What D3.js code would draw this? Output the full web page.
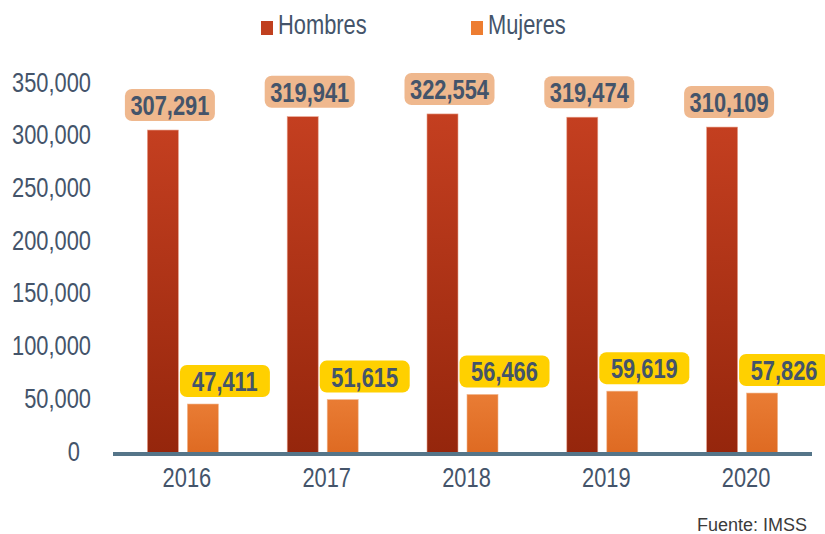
<!DOCTYPE html>
<html>
<head>
<meta charset="utf-8">
<script src="https://cdn.jsdelivr.net/npm/d3@7"></script>
<style>
  html, body { margin: 0; padding: 0; background: #ffffff; }
  svg { display: block; }
</style>
</head>
<body>
<svg id="chart" width="825" height="534"></svg>
<script>
const years = ["2016", "2017", "2018", "2019", "2020"];
const seriesNames = ["Hombres", "Mujeres"];
const hombres = [307291, 319941, 322554, 319474, 310109];
const mujeres = [47411, 51615, 56466, 59619, 57826];
const yTicks = [0, 50000, 100000, 150000, 200000, 250000, 300000, 350000];
const source = "Fuente: IMSS";

const W = 825, H = 534;
const font = "'Liberation Sans', Arial, sans-serif";
const FS = 27;
const SX = 0.81; // horizontal condensing to mimic a narrow face
const textColor = "#44546a";
const svg = d3.select("#chart");

const defs = svg.append("defs");
const gH = defs.append("linearGradient").attr("id", "gradH").attr("x1", 0).attr("x2", 0).attr("y1", 0).attr("y2", 1);
gH.append("stop").attr("offset", "0%").attr("stop-color", "#c43f20");
gH.append("stop").attr("offset", "100%").attr("stop-color", "#95260c");
const gM = defs.append("linearGradient").attr("id", "gradM").attr("x1", 0).attr("x2", 0).attr("y1", 0).attr("y2", 1);
gM.append("stop").attr("offset", "0%").attr("stop-color", "#e97c34");
gM.append("stop").attr("offset", "100%").attr("stop-color", "#de6a22");

const x0 = d3.scaleBand().domain(years).range([113, 812]).paddingInner(0);
const x1 = d3.scaleBand().domain(seriesNames).range([0, 71]).paddingInner(0.225);
const y = d3.scaleLinear().domain([0, 350000]).range([454, 85]);

// Y axis labels
const yAxis = d3.axisLeft(y).tickValues(yTicks).tickFormat(d3.format(",")).tickSize(0).tickPadding(0);
const yg = svg.append("g").attr("transform", "translate(91,0)").call(yAxis);
yg.select(".domain").remove();
yg.selectAll("text")
  .attr("font-family", font).attr("font-size", FS).attr("fill", textColor)
  .attr("dy", null)
  .attr("y", 6)
  .attr("x", d => d === 0 ? -11 / SX : 0)
  .attr("transform", `scale(${SX},1)`);

const data = years.map((yr, i) => ({ year: yr, values: [
  { key: "Hombres", value: hombres[i] },
  { key: "Mujeres", value: mujeres[i] }
]}));

const groups = svg.append("g").selectAll("g").data(data).join("g")
  .attr("transform", d => `translate(${x0(d.year) + x0.bandwidth() / 2 - 35.5},0)`);

groups.selectAll("rect.bar").data(d => d.values).join("rect")
  .attr("class", "bar")
  .attr("x", d => x1(d.key))
  .attr("width", x1.bandwidth())
  .attr("y", d => y(d.value))
  .attr("height", d => y(0) - y(d.value))
  .attr("fill", d => d.key === "Hombres" ? "url(#gradH)" : "url(#gradM)")
  .attr("stroke", d => d.key === "Hombres" ? "#e8a08a" : "#f2b68c")
  .attr("stroke-width", 0.6);

// Data labels
const lbl = groups.selectAll("g.lbl").data(d => d.values).join("g")
  .attr("class", "lbl")
  .attr("transform", d => {
    const cx = x1(d.key) + x1.bandwidth() / 2 + (d.key === "Hombres" ? 7 : 22);
    const bottom = y(d.value) - (d.key === "Hombres" ? 9 : 7);
    return `translate(${cx},${bottom})`;
  });
lbl.append("rect")
  .attr("x", -45).attr("y", -32).attr("width", 90).attr("height", 32)
  .attr("rx", 7).attr("ry", 7)
  .attr("fill", d => d.key === "Hombres" ? "#efb88e" : "#ffd000");
lbl.append("text")
  .attr("x", 0).attr("y", -6)
  .attr("text-anchor", "middle")
  .attr("font-family", font).attr("font-weight", "bold").attr("font-size", FS)
  .attr("fill", textColor)
  .attr("transform", `scale(${SX},1)`)
  .text(d => d3.format(",")(d.value));

// X axis line
svg.append("line")
  .attr("x1", x0.range()[0]).attr("x2", x0.range()[1])
  .attr("y1", y(0)).attr("y2", y(0))
  .attr("stroke", "#557589").attr("stroke-width", 4);

// X labels
const xAxis = d3.axisBottom(x0).tickSize(0).tickPadding(0);
const xg = svg.append("g").attr("transform", "translate(4,0)").call(xAxis);
xg.select(".domain").remove();
xg.selectAll("text")
  .attr("font-family", font).attr("font-size", FS).attr("fill", textColor)
  .attr("dy", null).attr("y", 487)
  .attr("transform", `scale(${SX},1)`);

// Legend
const legendX = [261, 471];
const leg = svg.append("g").selectAll("g").data(seriesNames).join("g")
  .attr("transform", (d, i) => `translate(${legendX[i]},0)`);
leg.append("rect").attr("x", 0).attr("y", 21).attr("width", 12).attr("height", 14)
  .attr("fill", d => d === "Hombres" ? "#c0401f" : "#ed7d31");
leg.append("text").attr("x", 17 / SX).attr("y", 34)
  .attr("font-family", font).attr("font-size", FS).attr("fill", textColor)
  .attr("transform", `scale(${SX},1)`)
  .text(d => d);

// Source
svg.append("text").attr("x", 807).attr("y", 531).attr("text-anchor", "end")
  .attr("font-family", font).attr("font-size", 18)
  .attr("fill", "#3b3b3b").text(source);
</script>
</body>
</html>
